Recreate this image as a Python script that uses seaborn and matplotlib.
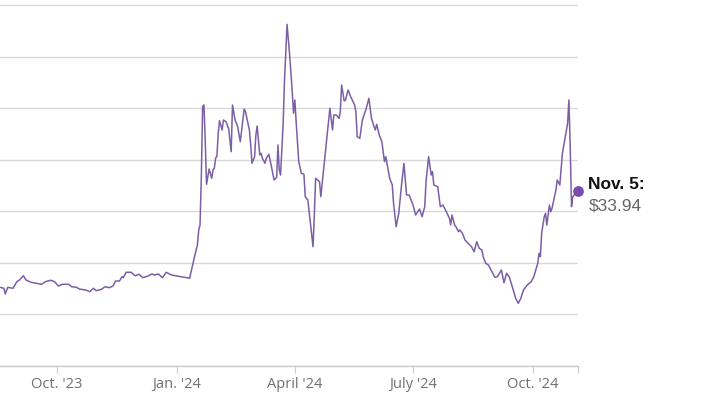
import matplotlib
matplotlib.use("Agg")
import matplotlib.pyplot as plt
import seaborn as sns
import pandas as pd

dates = [
    "2023-08-18", "2023-08-21", "2023-08-22", "2023-08-24", "2023-08-28", "2023-08-31",
    "2023-09-02", "2023-09-05", "2023-09-07", "2023-09-11", "2023-09-19", "2023-09-22",
    "2023-09-26", "2023-09-29", "2023-10-02", "2023-10-05", "2023-10-10", "2023-10-12",
    "2023-10-16", "2023-10-18", "2023-10-23", "2023-10-26", "2023-10-29", "2023-10-31",
    "2023-11-04", "2023-11-07", "2023-11-10", "2023-11-13", "2023-11-15", "2023-11-18",
    "2023-11-20", "2023-11-21", "2023-11-23", "2023-11-27", "2023-11-30", "2023-12-03",
    "2023-12-06", "2023-12-10", "2023-12-13", "2023-12-15", "2023-12-18", "2023-12-21",
    "2023-12-24", "2023-12-28", "2024-01-04", "2024-01-09", "2024-01-11", "2024-01-13",
    "2024-01-16", "2024-01-17", "2024-01-18", "2024-01-19", "2024-01-20", "2024-01-21",
    "2024-01-22", "2024-01-23", "2024-01-24", "2024-01-26", "2024-01-28", "2024-01-29",
    "2024-01-30", "2024-01-31", "2024-02-01", "2024-02-02", "2024-02-03", "2024-02-05",
    "2024-02-06", "2024-02-08", "2024-02-10", "2024-02-12", "2024-02-13", "2024-02-15",
    "2024-02-17", "2024-02-19", "2024-02-22", "2024-02-23", "2024-02-26", "2024-02-27",
    "2024-02-28", "2024-03-01", "2024-03-02", "2024-03-03", "2024-03-05", "2024-03-06",
    "2024-03-07", "2024-03-09", "2024-03-10", "2024-03-12", "2024-03-14", "2024-03-16",
    "2024-03-18", "2024-03-19", "2024-03-20", "2024-03-21", "2024-03-23", "2024-03-24",
    "2024-03-26", "2024-03-28", "2024-03-30", "2024-03-31", "2024-04-01", "2024-04-02",
    "2024-04-04", "2024-04-06", "2024-04-08", "2024-04-09", "2024-04-11", "2024-04-12",
    "2024-04-15", "2024-04-16", "2024-04-17", "2024-04-20", "2024-04-21", "2024-04-24",
    "2024-04-26", "2024-04-28", "2024-04-30", "2024-05-01", "2024-05-03", "2024-05-05",
    "2024-05-06", "2024-05-07", "2024-05-09", "2024-05-10", "2024-05-12", "2024-05-14",
    "2024-05-17", "2024-05-18", "2024-05-19", "2024-05-21", "2024-05-23", "2024-05-26",
    "2024-05-28", "2024-05-30", "2024-06-01", "2024-06-02", "2024-06-03", "2024-06-05",
    "2024-06-07", "2024-06-09", "2024-06-10", "2024-06-13", "2024-06-15", "2024-06-16",
    "2024-06-18", "2024-06-20", "2024-06-22", "2024-06-24", "2024-06-26", "2024-06-28",
    "2024-07-01", "2024-07-03", "2024-07-06", "2024-07-08", "2024-07-10", "2024-07-11",
    "2024-07-13", "2024-07-15", "2024-07-16", "2024-07-17", "2024-07-20", "2024-07-22",
    "2024-07-24", "2024-07-26", "2024-07-29", "2024-07-30", "2024-07-31", "2024-08-02",
    "2024-08-03", "2024-08-05", "2024-08-06", "2024-08-08", "2024-08-10", "2024-08-12",
    "2024-08-15", "2024-08-17", "2024-08-19", "2024-08-21", "2024-08-23", "2024-08-24",
    "2024-08-26", "2024-08-28", "2024-08-30", "2024-09-02", "2024-09-04", "2024-09-07",
    "2024-09-09", "2024-09-11", "2024-09-13", "2024-09-15", "2024-09-18", "2024-09-20",
    "2024-09-22", "2024-09-24", "2024-09-27", "2024-09-30", "2024-10-02", "2024-10-05",
    "2024-10-06", "2024-10-07", "2024-10-08", "2024-10-10", "2024-10-11", "2024-10-12",
    "2024-10-14", "2024-10-15", "2024-10-16", "2024-10-19", "2024-10-20", "2024-10-22",
    "2024-10-24", "2024-10-28", "2024-10-29", "2024-10-30", "2024-10-31", "2024-11-01",
    "2024-11-04", "2024-11-05",
]
prices = [
    15.26, 15.07, 13.96, 15.26, 15.07, 16.35,
    16.68, 17.51, 16.68, 16.23, 15.84, 16.35,
    16.62, 16.35, 15.51, 15.84, 15.84, 15.38,
    15.26, 14.93, 14.74, 14.41, 15.07, 14.60,
    14.87, 15.38, 15.18, 15.51, 16.48, 16.48,
    17.32, 17.12, 18.17, 18.17, 17.51, 17.78,
    17.12, 17.45, 17.84, 17.65, 17.84, 17.12,
    18.17, 17.65, 17.32, 17.12, 17.01, 19.26,
    22.49, 23.46, 26.37, 27.34, 36.71, 50.28,
    50.61, 43.82, 35.23, 38.20, 36.40, 38.01,
    38.34, 40.28, 40.72, 45.12, 47.57, 45.76,
    47.70, 47.37, 46.09, 41.56, 50.61, 47.70,
    46.40, 43.49, 49.84, 49.31, 45.76, 42.85,
    39.31, 40.59, 44.79, 46.54, 40.91, 41.25,
    40.28, 39.31, 40.28, 41.05, 38.65, 36.07,
    36.59, 42.85, 38.01, 37.04, 47.06, 55.13,
    66.26, 60.31, 53.19, 49.00, 51.58, 47.37,
    39.62, 37.37, 37.17, 32.83, 32.19, 29.92,
    23.13, 29.28, 36.40, 35.74, 32.83, 40.28,
    45.12, 49.97, 45.76, 48.67, 48.67, 48.03,
    49.31, 54.49, 51.39, 51.58, 53.52, 52.22,
    50.61, 49.31, 44.46, 44.15, 47.70, 49.97,
    51.91, 48.03, 46.40, 45.76, 46.87, 44.79,
    43.49, 39.62, 40.59, 36.40, 35.10, 31.55,
    27.01, 29.61, 34.77, 39.31, 33.16, 33.16,
    31.22, 29.28, 30.44, 28.95, 30.89, 35.74,
    40.59, 37.04, 37.68, 35.10, 34.77, 30.89,
    31.22, 30.25, 28.64, 27.34, 29.28, 27.34,
    27.01, 26.04, 26.37, 25.73, 24.43, 23.91,
    23.13, 22.16, 24.10, 22.82, 22.49, 21.19,
    19.91, 19.59, 18.62, 17.20, 17.32, 18.62,
    16.15, 17.98, 17.32, 15.71, 13.13, 12.16,
    13.13, 14.74, 15.71, 16.35, 17.32, 19.91,
    21.85, 21.19, 25.73, 28.95, 29.61, 27.34,
    31.22, 29.92, 30.58, 34.13, 36.07, 35.10,
    41.25, 47.06, 51.58, 42.52, 30.89, 32.83,
    33.80, 33.94,
]

tick_dates = ["2023-10-01", "2024-01-01", "2024-04-01", "2024-07-01", "2024-10-01"]
tick_labels = ["Oct. '23", "Jan. '24", "April '24", "July '24", "Oct. '24"]
y_grid = [0, 10, 20, 30, 40, 50, 60, 70]
last_label = "Nov. 5:"
last_value_label = "$33.94"

df = pd.DataFrame({"date": pd.to_datetime(dates), "price": prices})

sns.set_theme(style="white")
plt.rcParams["font.family"] = ["Open Sans", "DejaVu Sans"]

fig = plt.figure(figsize=(7.2, 4.2), dpi=100)
ax = fig.add_axes([0.0, 1 - 366 / 420, 578 / 720, 366 / 420])

sns.lineplot(data=df, x="date", y="price", ax=ax, color="#7b5fa6", linewidth=1.1)

last = df.iloc[-1]
ax.scatter([last["date"]], [last["price"]], s=45, color="#7a4bb0", zorder=5, clip_on=False)
ax.annotate(last_label, (last["date"], last["price"]), xytext=(7.5, 4.5), textcoords="offset points",
            ha="left", va="center", fontsize=12.5, fontweight="bold", color="#111111",
            family=["Liberation Sans", "DejaVu Sans"], annotation_clip=False)
ax.annotate(last_value_label, (last["date"], last["price"]), xytext=(7.5, -10.5), textcoords="offset points",
            ha="left", va="center", fontsize=12.5, color="#666666",
            family=["Liberation Sans", "DejaVu Sans"], annotation_clip=False)

ax.set_xlim(pd.Timestamp("2023-08-18"), pd.Timestamp("2024-11-05"))
ax.set_ylim(0, 366 / 5.157)

ax.set_yticks(y_grid)
ax.yaxis.grid(True, color="#d9d9d9", linewidth=1.0)
ax.xaxis.grid(False)
ax.tick_params(axis="y", left=False, labelleft=False)

ax.set_xticks(pd.to_datetime(tick_dates))
ax.set_xticklabels(tick_labels)
ax.set_xticks([pd.Timestamp("2024-11-05")], minor=True)
ax.tick_params(axis="x", which="both", bottom=True, length=5, width=0.8, color="#cccccc",
               labelsize=10.5, labelcolor="#707070", pad=3)

for s in ["top", "right", "left"]:
    ax.spines[s].set_visible(False)
ax.spines["bottom"].set_color("#cccccc")
ax.spines["bottom"].set_linewidth(1.0)
ax.set_xlabel("")
ax.set_ylabel("")

fig.savefig("out.png", dpi=100)
